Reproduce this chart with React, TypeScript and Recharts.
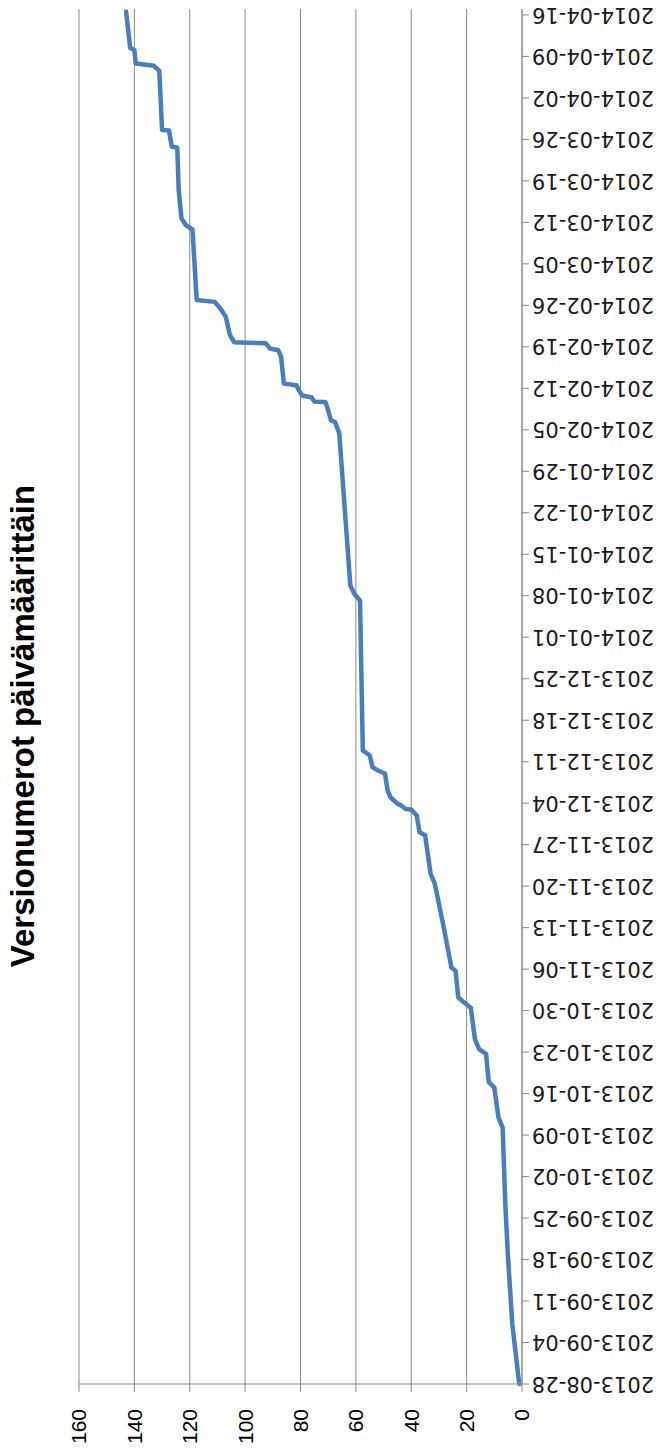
import React from 'react';
import { LineChart, Line, XAxis, YAxis, CartesianGrid } from 'recharts';

// release timestamps (UTC) and the running version number at each one
const stamps = [
  '2013-08-28T00:00', '2013-09-07T02:00', '2013-09-18T00:00', '2013-09-27T00:00',
  '2013-10-10T06:00', '2013-10-12T00:00', '2013-10-17T00:00', '2013-10-17T22:00',
  '2013-10-22T17:00', '2013-10-23T12:00', '2013-10-25T05:00', '2013-10-30T12:00',
  '2013-10-31T10:00', '2013-11-01T05:00', '2013-11-05T17:00', '2013-11-06T07:00',
  '2013-11-13T14:00', '2013-11-20T10:00', '2013-11-22T02:00', '2013-11-28T14:00',
  '2013-11-29T02:00', '2013-12-01T22:00', '2013-12-02T22:00', '2013-12-03T00:00',
  '2013-12-03T14:00', '2013-12-03T22:00', '2013-12-05T00:00', '2013-12-06T02:00',
  '2013-12-09T00:00', '2013-12-09T12:00', '2013-12-10T02:00', '2013-12-12T02:00',
  '2013-12-12T22:00', '2014-01-07T05:00', '2014-01-08T07:00', '2014-01-09T17:00',
  '2014-02-04T10:00', '2014-02-06T07:00', '2014-02-06T14:00', '2014-02-08T07:00',
  '2014-02-09T17:00', '2014-02-09T18:00', '2014-02-10T12:00', '2014-02-10T19:00',
  '2014-02-12T12:00', '2014-02-12T19:00', '2014-02-17T07:00', '2014-02-18T10:00',
  '2014-02-18T17:00', '2014-02-19T14:00', '2014-02-19T19:00', '2014-02-21T00:00',
  '2014-02-24T02:00', '2014-02-25T12:00', '2014-02-26T14:00', '2014-02-26T22:00',
  '2014-03-10T19:00', '2014-03-11T14:00', '2014-03-12T17:00', '2014-03-17T12:00',
  '2014-03-24T14:00', '2014-03-24T19:00', '2014-03-27T12:00', '2014-03-27T14:00',
  '2014-04-06T14:00', '2014-04-07T10:00', '2014-04-07T19:00', '2014-04-10T02:00',
  '2014-04-10T10:00', '2014-04-16T14:00',
];

const versions = [
  1, 3.5, 5, 6,
  7, 8.5, 10, 12,
  13, 15.5, 17, 18.5,
  21, 23, 24, 25.5,
  28.5, 31.5, 33, 35,
  37, 38, 40, 42,
  43.5, 45, 47.5, 48.5,
  49.5, 52, 54, 55,
  57.5, 58.5, 60.5, 62,
  66, 67.5, 69, 70,
  71, 75, 76, 79.5,
  81.5, 86, 87, 88,
  91, 92.5, 104, 105.5,
  107, 109, 111, 117.5,
  119, 121.5, 123, 124,
  124.5, 126.5, 127.5, 130,
  131, 133, 139.5, 140,
  141.5, 143,
];

const weekTicks = [
  '2013-08-28', '2013-09-04', '2013-09-11', '2013-09-18', '2013-09-25',
  '2013-10-02', '2013-10-09', '2013-10-16', '2013-10-23', '2013-10-30',
  '2013-11-06', '2013-11-13', '2013-11-20', '2013-11-27', '2013-12-04',
  '2013-12-11', '2013-12-18', '2013-12-25', '2014-01-01', '2014-01-08',
  '2014-01-15', '2014-01-22', '2014-01-29', '2014-02-05', '2014-02-12',
  '2014-02-19', '2014-02-26', '2014-03-05', '2014-03-12', '2014-03-19',
  '2014-03-26', '2014-04-02', '2014-04-09', '2014-04-16',
];

const valueTicks = [0, 20, 40, 60, 80, 100, 120, 140, 160];

const data = stamps.map((s, i) => ({ t: Date.parse(s + ':00Z'), v: versions[i] }));
const tickTimes = weekTicks.map((d) => Date.parse(d + 'T00:00:00Z'));
const domainStart = Date.parse('2013-08-28T00:00:00Z');
const domainEnd = Date.parse('2014-04-17T00:00:00Z');

const W = 1452;
const H = 662;
const GRAY = '#8a8a8a';

const fmtDate = (t: number) => new Date(t).toISOString().slice(0, 10);

const DateTick = (props: any) => {
  const { x, y, payload } = props;
  return (
    <text
      x={x}
      y={y}
      transform={`rotate(-90 ${x} ${y})`}
      textAnchor="end"
      dy="0.35em"
      fontSize={21}
      fontFamily="DejaVu Sans"
      fill="#1a1a1a"
    >
      {fmtDate(payload.value)}
    </text>
  );
};

// drawn landscape, then turned a quarter turn counter-clockwise
export default function App() {
  return (
    <div style={{ position: 'absolute', left: 0, top: 0, width: H, height: W, overflow: 'hidden', background: '#fff' }}>
      <div
        style={{
          position: 'absolute',
          left: 0,
          top: 0,
          width: W,
          height: H,
          transformOrigin: '0 0',
          transform: `translate(0px, ${W}px) rotate(-90deg)`,
        }}
      >
        <div
          style={{
            position: 'absolute',
            left: 0,
            top: 4,
            width: W,
            textAlign: 'center',
            fontFamily: '"Liberation Sans", Arial, sans-serif',
            fontWeight: 'bold',
            fontSize: 33,
            color: '#000',
          }}
        >
          Versionumerot päivämäärittäin
        </div>
        <LineChart width={W} height={H} data={data} margin={{ top: 79, right: 9, bottom: 0, left: 0 }}>
          <CartesianGrid vertical={false} stroke={GRAY} strokeWidth={1} />
          <XAxis
            dataKey="t"
            type="number"
            domain={[domainStart, domainEnd]}
            ticks={tickTimes}
            interval={0}
            height={140}
            tickSize={7}
            tickMargin={3}
            stroke={GRAY}
            tick={<DateTick />}
          />
          <YAxis
            type="number"
            domain={[0, 160]}
            ticks={valueTicks}
            interval={0}
            width={68}
            tickSize={8}
            tickMargin={17}
            stroke={GRAY}
            tick={{ fontSize: 21, fontFamily: 'Liberation Sans', fill: '#000' }}
          />
          <Line
            type="linear"
            dataKey="v"
            stroke="#4A7EBB"
            strokeWidth={4.5}
            strokeLinejoin="round"
            strokeLinecap="round"
            dot={false}
            activeDot={false}
            isAnimationActive={false}
          />
        </LineChart>
      </div>
    </div>
  );
}
